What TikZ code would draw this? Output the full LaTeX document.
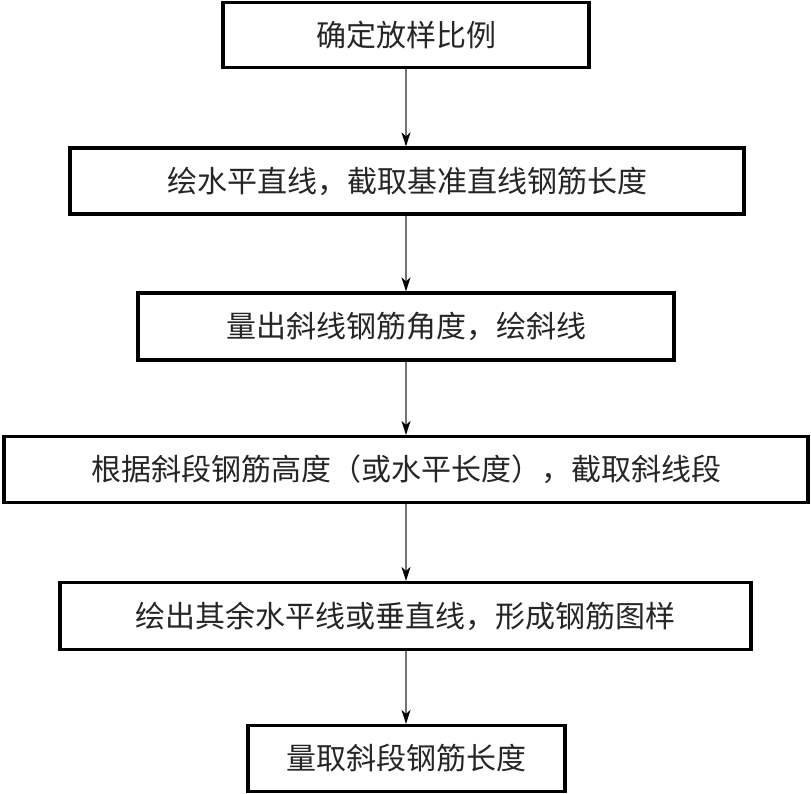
\documentclass[tikz,border=0pt]{standalone}
\usepackage{fontspec}
\setmainfont{Noto Sans CJK SC}
\usetikzlibrary{arrows.meta}
\tikzset{
  stepbox/.style={draw=black, line width=3.2pt, fill=white, inner sep=0pt,
    font=\fontsize{30}{34}\selectfont, text=black!85},
  flow/.style={draw=black!55, line width=1.3pt,
    -{Stealth[length=14pt,width=9pt,inset=4pt,color=black]}}
}
\begin{document}
\begin{tikzpicture}[x=1pt,y=-1pt]
\useasboundingbox (0,0) rectangle (811,794);
\node[stepbox, minimum width=366pt, minimum height=65pt] (b1) at (406,35) {确定放样比例};
\node[stepbox, minimum width=674pt, minimum height=66pt] (b2) at (407,181) {绘水平直线，截取基准直线钢筋长度};
\node[stepbox, minimum width=536pt, minimum height=67pt] (b3) at (406,326.5) {量出斜线钢筋角度，绘斜线};
\node[stepbox, minimum width=804pt, minimum height=66pt] (b4) at (406,469.5) {根据斜段钢筋高度（或水平长度），截取斜线段};
\node[stepbox, minimum width=691pt, minimum height=67pt] (b5) at (405.5,616) {绘出其余水平线或垂直线，形成钢筋图样};
\node[stepbox, minimum width=317pt, minimum height=66pt] (b6) at (406.5,758.5) {量取斜段钢筋长度};
\draw[flow] (b1.south -| 406,0) -- (b2.north -| 406,0);
\draw[flow] (b2.south -| 406,0) -- (b3.north -| 406,0);
\draw[flow] (b3.south -| 406,0) -- (b4.north -| 406,0);
\draw[flow] (b4.south -| 406,0) -- (b5.north -| 406,0);
\draw[flow] (b5.south -| 406,0) -- (b6.north -| 406,0);
\end{tikzpicture}
\end{document}
